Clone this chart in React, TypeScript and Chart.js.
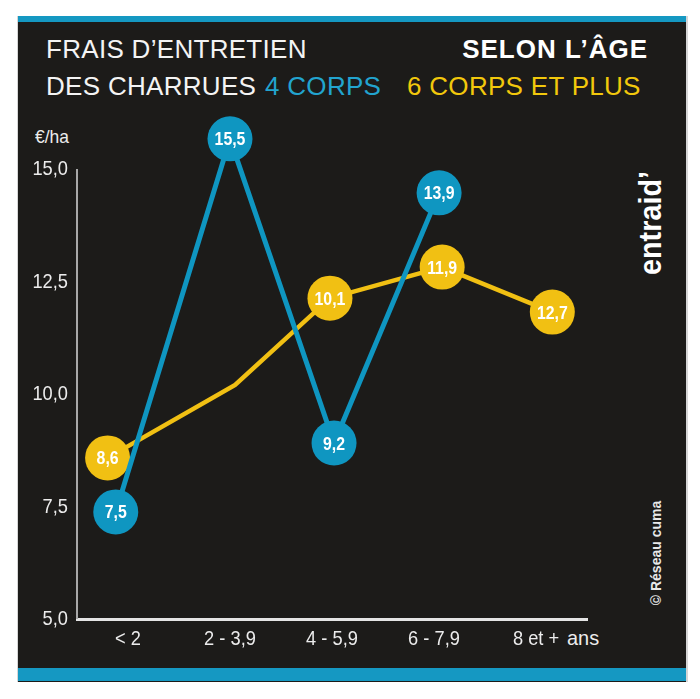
import React, { useEffect, useRef } from "react";
import { Chart, registerables } from "chart.js";

Chart.register(...registerables);

// ---- data ----
const categories = ["< 2", "2 - 3,9", "4 - 5,9", "6 - 7,9", "8 et +"];
const yTicks = [5, 7.5, 10, 12.5, 15];

// "4 corps" series: position on category axis and plotted height (as drawn)
const blueX = [-0.12, 1.0, 2.02, 3.05];
const blueY = [7.38, 15.67, 8.91, 14.47];
const blueLabels = ["7,5", "15,5", "9,2", "13,9"];

// "6 corps et plus" series (second point is a bend without marker)
const yellowX = [-0.2, 1.05, 1.98, 3.08, 4.16];
const yellowY = [8.58, 10.2, 12.13, 12.82, 11.82];
const yellowLabels = ["8,6", "", "10,1", "11,9", "12,7"];

const BLUE = "#0f96c1";
const YELLOW = "#f1c013";
const BG = "#1c1b19";
const SANS = '"Liberation Sans", Arial, sans-serif';

function scaledText(ctx: any, text: string, x: number, y: number, sx: number, align: string) {
  ctx.save();
  ctx.translate(x, y);
  ctx.scale(sx, 1);
  ctx.textAlign = align;
  ctx.fillText(text, 0, 0);
  ctx.restore();
}

const axisPlugin = {
  id: "axisDecor",
  beforeDatasetsDraw(chart: any) {
    const ctx = chart.ctx;
    const ys = chart.scales.y;
    const top = ys.getPixelForValue(yTicks[yTicks.length - 1]);
    const bottom = ys.getPixelForValue(yTicks[0]);
    ctx.save();
    ctx.strokeStyle = "#a8a8a8";
    ctx.lineWidth = 2;
    ctx.beginPath();
    ctx.moveTo(chart.chartArea.left, top);
    ctx.lineTo(chart.chartArea.left, bottom);
    ctx.stroke();
    ctx.restore();
  },
  afterDraw(chart: any) {
    const ctx = chart.ctx;
    const ys = chart.scales.y;
    const xs = chart.scales.x;
    ctx.save();
    ctx.fillStyle = "#ececec";
    ctx.font = `21px ${SANS}`;
    ctx.textBaseline = "alphabetic";
    yTicks.forEach((v) => {
      const py = ys.getPixelForValue(v);
      scaledText(ctx, v.toFixed(1).replace(".", ","), ys.right - 9, py + 6, 0.87, "right");
    });
    categories.forEach((c, i) => {
      const px = xs.getPixelForValue(i);
      scaledText(ctx, c, px, xs.top + 26, 0.87, "center");
    });
    ctx.restore();
  },
};

const labelPlugin = {
  id: "pointLabels",
  afterDatasetsDraw(chart: any) {
    const ctx = chart.ctx;
    const all = [blueLabels, yellowLabels];
    ctx.save();
    ctx.fillStyle = "#ffffff";
    ctx.font = `bold 18px ${SANS}`;
    ctx.textBaseline = "alphabetic";
    chart.data.datasets.forEach((_: any, i: number) => {
      const meta = chart.getDatasetMeta(i);
      meta.data.forEach((pt: any, j: number) => {
        const t = all[i][j];
        if (t) scaledText(ctx, t, pt.x, pt.y + 6.5, 0.88, "center");
      });
    });
    ctx.restore();
  },
};

export default function App() {
  const ref = useRef<HTMLCanvasElement | null>(null);

  useEffect(() => {
    if (!ref.current) return;
    const chart = new Chart(ref.current, {
      type: "line",
      data: {
        datasets: [
          {
            label: "4 corps",
            data: blueX.map((x, i) => ({ x, y: blueY[i] })),
            borderColor: BLUE,
            backgroundColor: BLUE,
            borderWidth: 5,
            pointRadius: 22.5,
            pointHoverRadius: 22.5,
            pointBorderWidth: 0,
            pointBackgroundColor: BLUE,
            tension: 0,
            clip: false as any,
          },
          {
            label: "6 corps et plus",
            data: yellowX.map((x, i) => ({ x, y: yellowY[i] })),
            borderColor: YELLOW,
            backgroundColor: YELLOW,
            borderWidth: 4.5,
            pointRadius: yellowLabels.map((l) => (l ? 22.5 : 0)),
            pointHoverRadius: 22.5,
            pointBorderWidth: 0,
            pointBackgroundColor: YELLOW,
            tension: 0,
            clip: false as any,
          },
        ],
      },
      options: {
        responsive: false,
        animation: false,
        devicePixelRatio: 1,
        events: [],
        layout: { padding: { top: 124, right: 113, left: 0, bottom: 0 } },
        plugins: { legend: { display: false }, tooltip: { enabled: false } },
        scales: {
          x: {
            type: "linear",
            min: -0.5,
            max: 4.5,
            afterBuildTicks: (s: any) => {
              s.ticks = categories.map((_, i) => ({ value: i }));
            },
            afterFit: (s: any) => {
              s.height = 80;
            },
            grid: { display: false, drawTicks: false },
            border: { display: true, color: "#e4e4e4", width: 3 },
            ticks: { display: false },
          },
          y: {
            type: "linear",
            min: 5,
            max: 16,
            afterBuildTicks: (s: any) => {
              s.ticks = yTicks.map((v) => ({ value: v }));
            },
            afterFit: (s: any) => {
              s.width = 77;
            },
            grid: { display: false, drawTicks: false },
            border: { display: false },
            ticks: { display: false },
          },
        },
      },
      plugins: [axisPlugin, labelPlugin],
    });
    return () => chart.destroy();
  }, []);

  const abs = (s: React.CSSProperties): React.CSSProperties => ({ position: "absolute", whiteSpace: "nowrap", ...s });

  return (
    <div style={abs({ left: 0, top: 0, width: 700, height: 699, background: "#ffffff", overflow: "hidden" })}>
      <div style={abs({ left: 17, top: 16, width: 671, height: 666, background: "#d6d6d6" })} />
      <div style={abs({ left: 18, top: 16, width: 668, height: 666, background: BG })} />
      <div style={abs({ left: 18, top: 16, width: 668, height: 6, background: "#1598c2" })} />
      <div style={abs({ left: 18, top: 668, width: 668, height: 13, background: "#1598c2" })} />

      <div style={abs({ left: 46, top: 36, font: `26px ${SANS}`, lineHeight: "26px", color: "#f4f4f4", letterSpacing: 0.3 })}>
        FRAIS D’ENTRETIEN
      </div>
      <div style={abs({ right: 52, top: 36, font: `bold 26px ${SANS}`, lineHeight: "26px", color: "#ffffff", letterSpacing: 1 })}>
        SELON L’ÂGE
      </div>
      <div style={abs({ left: 46, top: 73, font: `26px ${SANS}`, lineHeight: "26px", color: "#f4f4f4", letterSpacing: 0.3 })}>
        DES CHARRUES
      </div>
      <div style={abs({ left: 265, top: 73, font: `26px ${SANS}`, lineHeight: "26px", color: "#22a4cf", letterSpacing: 0.3 })}>
        4 CORPS
      </div>
      <div style={abs({ left: 407, top: 73, font: `26px ${SANS}`, lineHeight: "26px", color: "#f2c80c", letterSpacing: 0.3 })}>
        6 CORPS ET PLUS
      </div>

      <div style={abs({ left: 35, top: 127, font: `19px ${SANS}`, lineHeight: "19px", color: "#ececec", transform: "scaleX(0.92)", transformOrigin: "left top" })}>€/ha</div>
      <div style={abs({ left: 567, top: 627, font: `21px ${SANS}`, lineHeight: "21px", color: "#ececec", transform: "scaleX(0.95)", transformOrigin: "left top" })}>ans</div>

      <div
        style={abs({
          left: 650,
          top: 223,
          transform: "translate(-50%, -50%) rotate(-90deg) scaleX(0.9)",
          font: `bold 32px ${SANS}`,
          lineHeight: "32px",
          color: "#ffffff",
        })}
      >
        entraid’
      </div>
      <div
        style={abs({
          left: 656,
          top: 553,
          transform: "translate(-50%, -50%) rotate(-90deg)",
          font: `bold 14px ${SANS}`,
          lineHeight: "15px",
          color: "#e8e8e8",
        })}
      >
        © Réseau cuma
      </div>

      <canvas ref={ref} width={700} height={699} style={abs({ left: 0, top: 0, width: 700, height: 699 })} />
    </div>
  );
}
